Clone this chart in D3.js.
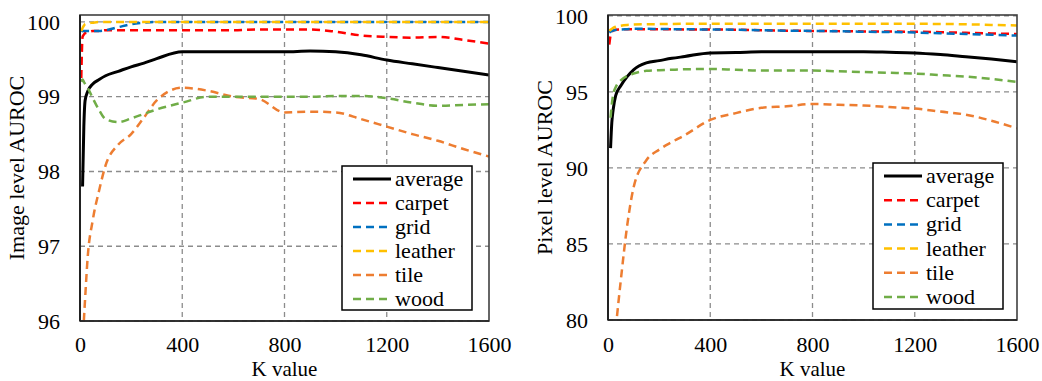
<!DOCTYPE html>
<html>
<head>
<meta charset="utf-8">
<script src="https://cdn.jsdelivr.net/npm/d3@7"></script>
<style>
  html, body { margin: 0; padding: 0; background: #fff; }
  svg { display: block; }
  text { font-family: "Liberation Serif", "Times New Roman", serif; fill: #000; }
</style>
</head>
<body>
<svg id="chart" width="1042" height="381"></svg>
<script>
// ---------- DATA ----------
const kValues = [5, 10, 15, 20, 30, 50, 75, 100, 150, 200, 250, 300, 400, 500, 600, 700, 800, 900, 1000, 1100, 1200, 1300, 1400, 1500, 1600];
const xTicks = [0, 400, 800, 1200, 1600];
const seriesNames = ["average", "carpet", "grid", "leather", "tile", "wood"];
const seriesColors = ["#000000", "#FF0000", "#0070C0", "#FFC000", "#ED7D31", "#70AD47"];

// Image level AUROC
const imgTicks = [96, 97, 98, 99, 100];
const imgAverage = [null, 97.8, 98.6, 98.95, 99.07, 99.17, 99.23, 99.28, 99.34, 99.4, 99.45, 99.51, 99.6, 99.6, 99.6, 99.6, 99.6, 99.61, 99.6, 99.56, 99.49, 99.44, 99.39, 99.34, 99.29];
const imgCarpet  = [99.25, 99.8, 99.83, 99.85, 99.86, 99.88, 99.88, 99.89, 99.89, 99.89, 99.89, 99.89, 99.89, 99.89, 99.89, 99.9, 99.9, 99.9, 99.87, 99.82, 99.8, 99.79, 99.8, 99.76, 99.71];
const imgGrid    = [99.87, 99.88, 99.88, 99.88, 99.88, 99.88, 99.88, 99.89, 99.93, 99.97, 99.99, 100, 100, 100, 100, 100, 100, 100, 100, 100, 100, 100, 100, 100, 100];
const imgLeather = [99.88, 99.92, 99.95, 99.97, 99.98, 99.99, 100, 100, 100, 100, 100, 100, 100, 100, 100, 100, 100, 100, 100, 100, 100, 100, 100, 100, 100];
const imgTile    = [null, null, 96.0, 96.3, 96.85, 97.35, 97.75, 98.08, 98.36, 98.5, 98.72, 98.95, 99.12, 99.08, 99.0, 98.97, 98.79, 98.8, 98.79, 98.7, 98.6, 98.5, 98.41, 98.3, 98.2];
const imgWood    = [99.2, 99.23, 99.2, 99.17, 99.12, 98.98, 98.82, 98.7, 98.66, 98.71, 98.77, 98.83, 98.92, 99.0, 99.0, 99.0, 99.0, 99.0, 99.01, 99.01, 98.98, 98.92, 98.88, 98.89, 98.9];

// Pixel level AUROC
const pixTicks = [80, 85, 90, 95, 100];
const pixAverage = [null, 91.3, 93.0, 93.8, 94.75, 95.4, 96.0, 96.45, 96.9, 97.05, 97.2, 97.32, 97.56, 97.58, 97.63, 97.63, 97.63, 97.63, 97.63, 97.6, 97.56, 97.45, 97.3, 97.15, 96.97];
const pixCarpet  = [98.1, 98.7, 98.95, 99.02, 99.08, 99.1, 99.12, 99.12, 99.12, 99.12, 99.12, 99.1, 99.1, 99.08, 99.05, 99.02, 99.0, 98.99, 98.97, 98.96, 98.95, 98.92, 98.88, 98.84, 98.8];
const pixGrid    = [98.9, 98.95, 99.0, 99.03, 99.07, 99.1, 99.12, 99.14, 99.14, 99.13, 99.12, 99.11, 99.1, 99.08, 99.05, 99.02, 99.0, 98.98, 98.95, 98.93, 98.9, 98.85, 98.8, 98.75, 98.7];
const pixLeather = [99.0, 99.08, 99.15, 99.2, 99.28, 99.35, 99.4, 99.42, 99.44, 99.45, 99.46, 99.47, 99.47, 99.47, 99.47, 99.47, 99.47, 99.47, 99.47, 99.47, 99.47, 99.46, 99.44, 99.4, 99.36];
const pixTile    = [null, null, null, null, 79.4, 82.6, 86.2, 88.7, 90.5, 91.2, 91.7, 92.15, 93.15, 93.6, 93.95, 94.05, 94.2, 94.15, 94.1, 94.0, 93.9, 93.7, 93.5, 93.1, 92.6];
const pixWood    = [null, 93.3, 94.2, 94.8, 95.3, 95.75, 96.05, 96.2, 96.38, 96.42, 96.45, 96.48, 96.5, 96.45, 96.4, 96.4, 96.4, 96.35, 96.3, 96.25, 96.2, 96.1, 96.0, 95.85, 95.65];

// ---------- DRAW ----------
const svg = d3.select("#chart");

function drawPanel(cfg) {
  const { id, left, right, top, bottom, yDomain, yTicks, series, yLabel, yLabelX, legend } = cfg;
  const x = d3.scaleLinear().domain([0, 1600]).range([left, right]);
  const y = d3.scaleLinear().domain(yDomain).range([bottom, top]);
  const g = svg.append("g");

  g.append("clipPath").attr("id", "clip-" + id)
    .append("rect").attr("x", left).attr("y", top).attr("width", right - left).attr("height", bottom - top);

  // gridlines
  g.append("g").selectAll("line").data(yTicks).join("line")
    .attr("x1", left).attr("x2", right)
    .attr("y1", d => y(d)).attr("y2", d => y(d))
    .attr("stroke", "#8c8c8c").attr("stroke-width", 1.3).attr("stroke-dasharray", "5,4");
  g.append("g").selectAll("line").data(xTicks.slice(1, -1)).join("line")
    .attr("x1", d => x(d)).attr("x2", d => x(d))
    .attr("y1", top).attr("y2", bottom)
    .attr("stroke", "#8c8c8c").attr("stroke-width", 1.3).attr("stroke-dasharray", "5,4");

  // series
  const lines = g.append("g").attr("clip-path", "url(#clip-" + id + ")");
  series.forEach((vals, i) => {
    const pts = kValues.map((k, j) => [k, vals[j]]);
    const line = d3.line()
      .defined(d => d[1] !== null)
      .x(d => x(d[0])).y(d => y(d[1]))
      .curve(d3.curveMonotoneX);
    lines.append("path").datum(pts)
      .attr("d", line)
      .attr("fill", "none")
      .attr("stroke", seriesColors[i])
      .attr("stroke-width", i === 0 ? 3 : 2.5)
      .attr("stroke-dasharray", i === 0 ? null : "8,5");
  });

  // frame
  g.append("rect").attr("x", left).attr("y", top).attr("width", right - left).attr("height", bottom - top)
    .attr("fill", "none").attr("stroke", "#404040").attr("stroke-width", 1.6);
  g.append("line").attr("x1", left).attr("x2", left).attr("y1", top).attr("y2", bottom)
    .attr("stroke", "#222").attr("stroke-width", 2);
  g.append("line").attr("x1", left).attr("x2", right).attr("y1", bottom).attr("y2", bottom)
    .attr("stroke", "#222").attr("stroke-width", 1.6);

  // axes with d3 axis generators (labels only)
  const xAxis = d3.axisBottom(x).tickValues(xTicks).tickSize(0).tickPadding(0).tickFormat(d3.format("d"));
  const xg = g.append("g").attr("transform", `translate(0,${bottom})`).call(xAxis);
  xg.select(".domain").remove();
  xg.selectAll("text").attr("dy", null).attr("y", 352 - bottom)
    .style("font-family", '"Liberation Serif", serif').style("font-size", "22px").attr("fill", "#000");

  const yAxis = d3.axisLeft(y).tickValues(yTicks).tickSize(0).tickPadding(0).tickFormat(d3.format("d"));
  const yg = g.append("g").attr("transform", `translate(${left},0)`).call(yAxis);
  yg.select(".domain").remove();
  yg.selectAll("text").attr("dy", "0.33em").attr("x", -20)
    .style("font-family", '"Liberation Serif", serif').style("font-size", "22px").attr("fill", "#000");

  // axis titles
  g.append("text").attr("x", (left + right) / 2).attr("y", 376)
    .attr("text-anchor", "middle").style("font-size", "21px").text("K value");
  g.append("text")
    .attr("transform", `translate(${yLabelX},${(top + bottom) / 2}) rotate(-90)`)
    .attr("text-anchor", "middle").style("font-size", "22px").text(yLabel);

  // legend
  const lg = g.append("g");
  lg.append("rect").attr("x", legend.x).attr("y", legend.y).attr("width", legend.w).attr("height", legend.h)
    .attr("fill", "#fff").attr("stroke", "#000").attr("stroke-width", 1.5);
  seriesNames.forEach((name, i) => {
    const cy = legend.first + i * legend.step;
    lg.append("line")
      .attr("x1", legend.x + 11).attr("x2", legend.x + 49)
      .attr("y1", cy).attr("y2", cy)
      .attr("stroke", seriesColors[i])
      .attr("stroke-width", i === 0 ? 3 : 2.5)
      .attr("stroke-dasharray", i === 0 ? null : "8,5");
    lg.append("text").attr("x", legend.x + 53).attr("y", cy + 7)
      .style("font-size", "22px").text(name);
  });
}

drawPanel({
  id: "img", left: 80, right: 489, top: 15, bottom: 321,
  yDomain: [96, 100.093], yTicks: imgTicks,
  series: [imgAverage, imgCarpet, imgGrid, imgLeather, imgTile, imgWood],
  yLabel: "Image level AUROC", yLabelX: 24,
  legend: { x: 342, y: 166, w: 130, h: 144, first: 179, step: 24 }
});

drawPanel({
  id: "pix", left: 608, right: 1017, top: 15, bottom: 320,
  yDomain: [80, 100.05], yTicks: pixTicks,
  series: [pixAverage, pixCarpet, pixGrid, pixLeather, pixTile, pixWood],
  yLabel: "Pixel level AUROC", yLabelX: 552,
  legend: { x: 873, y: 163, w: 130, h: 146, first: 176, step: 24.2 }
});
</script>
</body>
</html>
